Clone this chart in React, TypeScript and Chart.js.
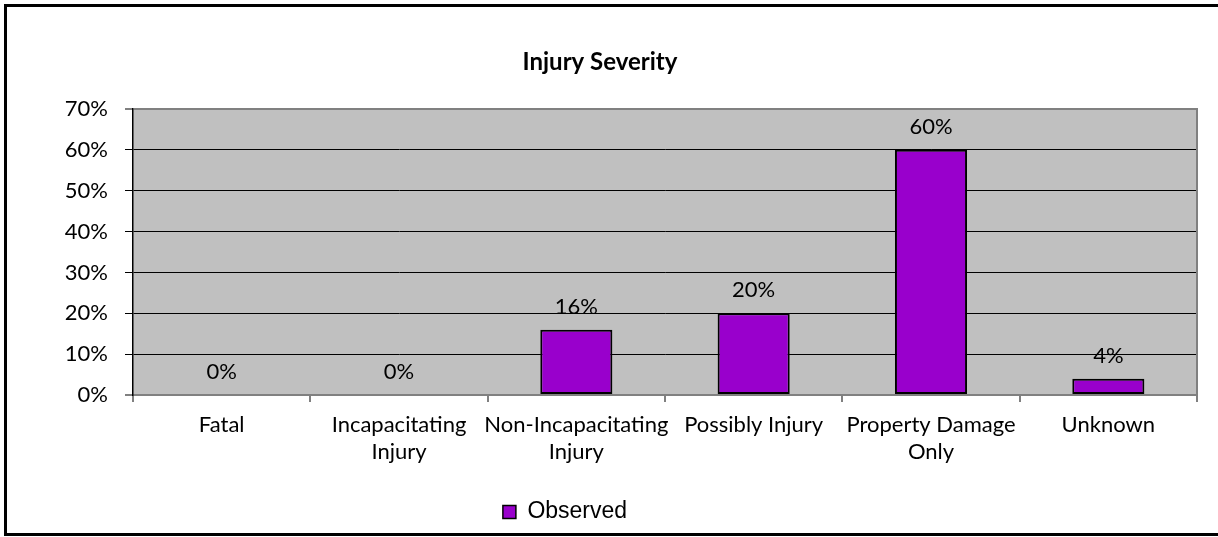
import React, { useEffect, useRef } from "react";
import { Chart, registerables } from "chart.js";

Chart.register(...registerables);

const categories: (string | string[])[] = [
  "Fatal",
  ["Incapacitating", "Injury"],
  ["Non-Incapacitating", "Injury"],
  "Possibly Injury",
  ["Property Damage", "Only"],
  "Unknown",
];
const observed: number[] = [0, 0, 16, 20, 60, 4];
const seriesLabel = "Observed";
const chartTitle = "Injury Severity";
const yMin = 0;
const yMax = 70;
const yStep = 10;

const FONT = "Lato, 'Open Sans', sans-serif";

const framePlugin = {
  id: "frame",
  beforeDraw(chart: any) {
    const { ctx, chartArea } = chart;
    ctx.save();
    ctx.fillStyle = "#ffffff";
    ctx.fillRect(0, 0, chart.width, chart.height);
    ctx.fillStyle = "#C0C0C0";
    ctx.fillRect(chartArea.left, chartArea.top, chartArea.right - chartArea.left, chartArea.bottom - chartArea.top);
    ctx.restore();
  },
  afterDraw(chart: any) {
    const { ctx, chartArea } = chart;
    ctx.save();
    ctx.strokeStyle = "#808080";
    ctx.lineWidth = 2;
    ctx.beginPath();
    ctx.moveTo(chartArea.right, chartArea.top - 1);
    ctx.lineTo(chartArea.right, chartArea.bottom);
    ctx.stroke();
    ctx.strokeStyle = "#000000";
    ctx.lineWidth = 3;
    ctx.strokeRect(5.5, 5.5, 1400, 529);
    ctx.restore();
  },
};

const valueLabelPlugin = {
  id: "valueLabels",
  afterDatasetsDraw(chart: any) {
    const { ctx } = chart;
    const meta = chart.getDatasetMeta(0);
    const data = chart.data.datasets[0].data as number[];
    ctx.save();
    ctx.font = `22px ${FONT}`;
    ctx.fillStyle = "#000000";
    ctx.textAlign = "center";
    ctx.textBaseline = "middle";
    meta.data.forEach((el: any, i: number) => {
      ctx.fillText(`${data[i]}%`, el.x, el.y - 23);
    });
    ctx.restore();
  },
};

const legendShiftPlugin = {
  id: "legendShift",
  afterLayout(chart: any) {
    if (chart.legend) {
      chart.legend.left -= 35;
      chart.legend.right -= 35;
    }
  },
};

export default function App() {
  const canvasRef = useRef<HTMLCanvasElement | null>(null);

  useEffect(() => {
    document.body.style.margin = "0";
    const canvas = canvasRef.current;
    if (!canvas) return;
    const chart = new Chart(canvas, {
      type: "bar",
      data: {
        labels: categories,
        datasets: [
          {
            label: seriesLabel,
            data: observed,
            backgroundColor: "#9900CC",
            borderColor: "#000000",
            borderWidth: (c: any) => (c.raw === 0 ? 0 : 2),
            borderSkipped: false,
            categoryPercentage: 1,
            barPercentage: 0.4065,
          },
        ],
      },
      options: {
        responsive: false,
        animation: false,
        layout: { padding: { left: 3, right: 21, top: 0, bottom: 3.5 } },
        plugins: {
          tooltip: { enabled: false },
          title: {
            display: true,
            text: chartTitle,
            color: "#000000",
            font: { family: FONT, size: 24, weight: "bold" },
            padding: { top: 47.6, bottom: 32.6 },
          },
          legend: {
            display: true,
            position: "bottom",
            labels: {
              font: { family: "'Liberation Sans', Arial, sans-serif", size: 23 },
              color: "#000000",
              boxWidth: 13,
              boxHeight: 13,
              padding: 10,
              generateLabels: (ch: any) =>
                ch.data.datasets.map((ds: any, i: number) => ({
                  text: ds.label,
                  fillStyle: ds.backgroundColor,
                  strokeStyle: "#000000",
                  lineWidth: 1.5,
                  hidden: false,
                  datasetIndex: i,
                  fontColor: "#000000",
                })),
            },
          },
        },
        scales: {
          x: {
            grid: {
              offset: true,
              drawOnChartArea: false,
              drawTicks: true,
              tickLength: 7,
              color: "#808080",
              lineWidth: 2,
            },
            border: { display: true, color: "#808080", width: 2 },
            ticks: {
              color: "#000000",
              font: { family: FONT, size: 22, lineHeight: 1.2 },
              padding: 10,
              maxRotation: 0,
              autoSkip: false,
            },
            afterFit(scale: any) {
              scale.height = 95.5;
            },
          },
          y: {
            min: yMin,
            max: yMax,
            grid: {
              color: (c: any) => (c.tick && (c.tick.value === yMin || c.tick.value === yMax) ? "#808080" : "#000000"),
              lineWidth: (c: any) => (c.tick && (c.tick.value === yMin || c.tick.value === yMax) ? 2 : 1),
              tickLength: 8,
            },
            border: { display: true, color: "#000000", width: 1.5 },
            ticks: {
              stepSize: yStep,
              color: "#000000",
              font: { family: FONT, size: 22 },
              padding: 17,
              callback: (v: any) => `${v}%`,
            },
            afterFit(scale: any) {
              scale.width = 130;
            },
          },
        },
      },
      plugins: [framePlugin, valueLabelPlugin, legendShiftPlugin],
    } as any);
    return () => chart.destroy();
  }, []);

  return (
    <div style={{ width: 1218, height: 537 }}>
      <canvas ref={canvasRef} width={1218} height={537} />
    </div>
  );
}
